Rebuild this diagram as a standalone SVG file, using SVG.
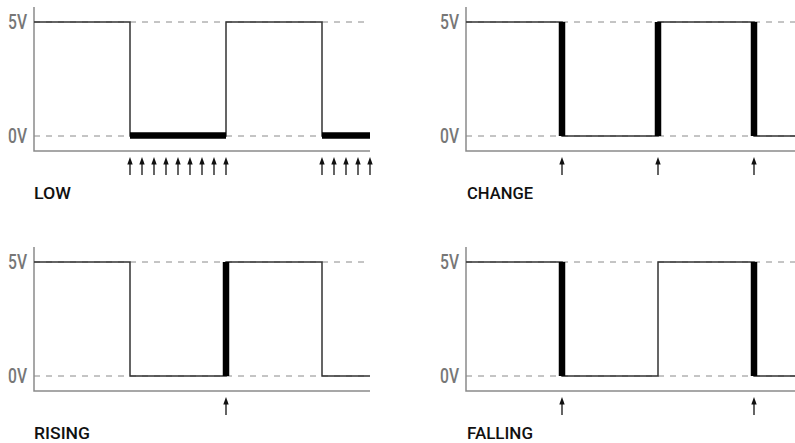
<svg xmlns="http://www.w3.org/2000/svg" xmlns:xlink="http://www.w3.org/1999/xlink" width="795" height="443" viewBox="0 0 795 443">
<style>
.axis{stroke:#8a8a8a;stroke-width:1.5;fill:none}
.dash{stroke:#8a8a8a;stroke-width:1;stroke-dasharray:6,6;fill:none}
.wave{stroke:#333;stroke-width:1.5;fill:none}
.thick{stroke:#000;stroke-width:6.5;fill:none}
.lvl{font-family:Roboto,"Liberation Sans",sans-serif;font-weight:500;font-size:19.5px;fill:#777}
.title{font-family:Roboto,"Liberation Sans",sans-serif;font-weight:500;font-size:16px;fill:#111}
.arrow line{stroke:#111;stroke-width:1.3}
.arrow polygon{fill:#111}
</style>
<defs>
<g id="arr" class="arrow"><line x1="0" y1="163" x2="0" y2="175"/><polygon points="0,157 -2.7,164.5 2.7,164.5"/></g>
</defs>
<rect width="795" height="443" fill="#fff"/>

<g id="low">
<line class="dash" x1="34" y1="22" x2="370" y2="22"/>
<line class="dash" x1="34" y1="136" x2="370" y2="136"/>
<polyline class="axis" points="34,7 34,151 370,151"/>
<polyline class="wave" points="34,22 130,22 130,136 226,136 226,22 322,22 322,136 370,136"/>
<line class="thick" x1="130" y1="135.5" x2="226" y2="135.5"/>
<line class="thick" x1="322" y1="135.5" x2="370" y2="135.5"/>
<text class="lvl" x="8" y="28.5" textLength="19" lengthAdjust="spacingAndGlyphs">5V</text>
<text class="lvl" x="8" y="142.5" textLength="19" lengthAdjust="spacingAndGlyphs">0V</text>
<text class="title" x="34" y="199" textLength="37" lengthAdjust="spacingAndGlyphs">LOW</text>
<use xlink:href="#arr" x="130"/><use xlink:href="#arr" x="142"/><use xlink:href="#arr" x="154"/>
<use xlink:href="#arr" x="166"/><use xlink:href="#arr" x="178"/><use xlink:href="#arr" x="190"/>
<use xlink:href="#arr" x="202"/><use xlink:href="#arr" x="214"/><use xlink:href="#arr" x="226"/>
<use xlink:href="#arr" x="322"/><use xlink:href="#arr" x="334"/><use xlink:href="#arr" x="346"/>
<use xlink:href="#arr" x="358"/><use xlink:href="#arr" x="370"/>
</g>

<g id="change">
<line class="dash" x1="466" y1="22" x2="795" y2="22"/>
<line class="dash" x1="466" y1="136" x2="795" y2="136"/>
<polyline class="axis" points="466,7 466,151 795,151"/>
<polyline class="wave" points="466,22 562,22 562,136 658,136 658,22 754,22 754,136 795,136"/>
<line class="thick" x1="562" y1="22" x2="562" y2="136"/>
<line class="thick" x1="658" y1="22" x2="658" y2="136"/>
<line class="thick" x1="754" y1="22" x2="754" y2="136"/>
<text class="lvl" x="440" y="28.5" textLength="19" lengthAdjust="spacingAndGlyphs">5V</text>
<text class="lvl" x="440" y="142.5" textLength="19" lengthAdjust="spacingAndGlyphs">0V</text>
<text class="title" x="467" y="199" textLength="66" lengthAdjust="spacingAndGlyphs">CHANGE</text>
<use xlink:href="#arr" x="562"/><use xlink:href="#arr" x="658"/><use xlink:href="#arr" x="754"/>
</g>

<g id="rising" transform="translate(0,240)">
<line class="dash" x1="34" y1="22" x2="370" y2="22"/>
<line class="dash" x1="34" y1="136" x2="370" y2="136"/>
<polyline class="axis" points="34,7 34,151 370,151"/>
<polyline class="wave" points="34,22 130,22 130,136 226,136 226,22 322,22 322,136 370,136"/>
<line class="thick" x1="226" y1="22" x2="226" y2="136"/>
<text class="lvl" x="8" y="28.5" textLength="19" lengthAdjust="spacingAndGlyphs">5V</text>
<text class="lvl" x="8" y="142.5" textLength="19" lengthAdjust="spacingAndGlyphs">0V</text>
<text class="title" x="34" y="199" textLength="56" lengthAdjust="spacingAndGlyphs">RISING</text>
<use xlink:href="#arr" x="226"/>
</g>

<g id="falling" transform="translate(0,240)">
<line class="dash" x1="466" y1="22" x2="795" y2="22"/>
<line class="dash" x1="466" y1="136" x2="795" y2="136"/>
<polyline class="axis" points="466,7 466,151 795,151"/>
<polyline class="wave" points="466,22 562,22 562,136 658,136 658,22 754,22 754,136 795,136"/>
<line class="thick" x1="562" y1="22" x2="562" y2="136"/>
<line class="thick" x1="754" y1="22" x2="754" y2="136"/>
<text class="lvl" x="440" y="28.5" textLength="19" lengthAdjust="spacingAndGlyphs">5V</text>
<text class="lvl" x="440" y="142.5" textLength="19" lengthAdjust="spacingAndGlyphs">0V</text>
<text class="title" x="467" y="199" textLength="66" lengthAdjust="spacingAndGlyphs">FALLING</text>
<use xlink:href="#arr" x="562"/><use xlink:href="#arr" x="754"/>
</g>
</svg>
